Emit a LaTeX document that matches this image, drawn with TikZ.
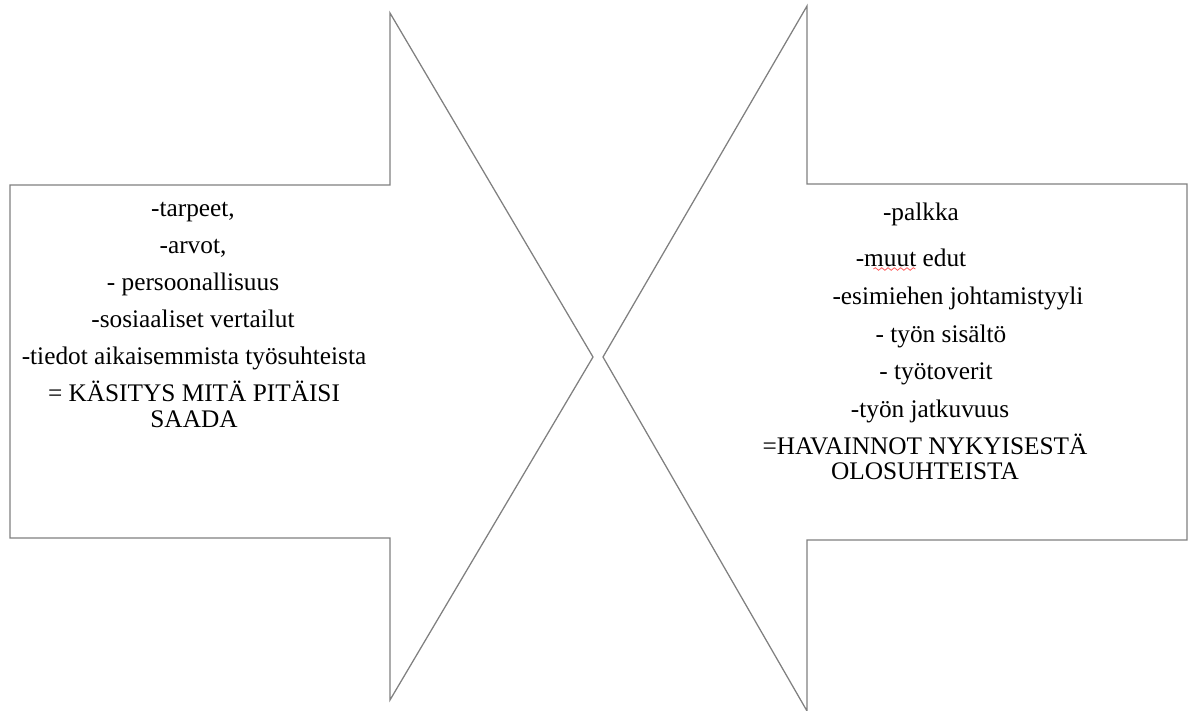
\documentclass[tikz,border=0pt]{standalone}
\usepackage{fontspec}
\setmainfont{Liberation Serif}
\usetikzlibrary{decorations.pathmorphing}
\begin{document}
\begin{tikzpicture}[x=0.016667cm,y=-0.016667cm,
    reuna/.style={draw=gray,line width=0.6pt,line join=miter},
    testo/.style={anchor=base,inner sep=0pt,font=\fontsize{12}{14}\selectfont}]
        % --- macro riutilizzabili -----------------------------------------
        \def\voce#1#2#3#4{\node[testo] (#1) at (#2,#3) {#4};}
        \useasboundingbox (0,0) rectangle (1188,711);
        % --- frecce -------------------------------------------------------
        \draw[reuna] (10,185) -- (390,185) -- (390,13) -- (593,357)
            -- (390,700) -- (390,538) -- (10,538) -- cycle;
        \draw[reuna] (1187,184) -- (807,184) -- (807,6) -- (603,357)
            -- (807,711) -- (807,540) -- (1187,540) -- cycle;
        % --- freccia sinistra ---------------------------------------------
        \voce{tarpeet}{193}{216}{-tarpeet,}
        \voce{arvot}{193}{253}{-arvot,}
        \voce{pers}{193}{290}{- persoonallisuus}
        \voce{sos}{193}{327}{-sosiaaliset vertailut}
        \voce{tiedot}{194}{364}{-tiedot aikaisemmista työsuhteista}
        \voce{kasitys}{194}{401}{= KÄSITYS MITÄ PITÄISI}
        \voce{saada}{194}{427}{SAADA}
        % --- freccia destra -----------------------------------------------
        \voce{palkka}{921}{220}{-palkka}
        \voce{edut}{911}{266}{-muut edut}
        \voce{esim}{958}{304}{-esimiehen johtamistyyli}
        \voce{sisalto}{941}{342}{- työn sisältö}
        \voce{toverit}{936}{379}{- työtoverit}
        \voce{jatk}{930}{417}{-työn jatkuvuus}
        \voce{hav}{925}{454}{=HAVAINNOT NYKYISESTÄ}
        \voce{olo}{925}{479}{OLOSUHTEISTA}
        % --- sottolineatura ortografica -----------------------------------
        \draw[red!60!white,line width=0.4pt,decorate,
            decoration={snake,amplitude=0.6pt,segment length=3pt}]
            (edut.base west) ++(18,3) -- ++(42,0);
    \end{tikzpicture}
\end{document}
